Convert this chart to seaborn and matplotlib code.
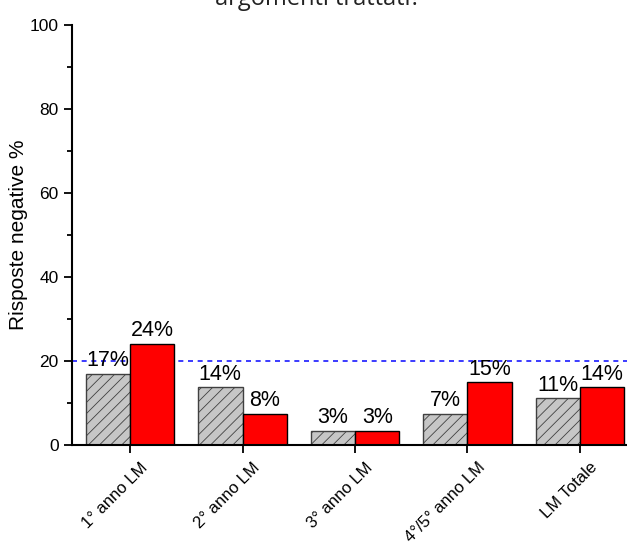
import matplotlib
matplotlib.use("Agg")
import matplotlib.pyplot as plt
from matplotlib.ticker import MultipleLocator
import matplotlib.transforms as mtransforms
import pandas as pd
import seaborn as sns

# data
categorie = ["1° anno LM", "2° anno LM", "3° anno LM", "4°/5° anno LM", "LM Totale"]
gruppi = ["grigio", "rosso"]
valori_grigio = [16.9, 13.7, 3.4, 7.5, 11.1]
valori_rosso = [24.0, 7.5, 3.4, 14.9, 13.7]
etichette_grigio = ["17%", "14%", "3%", "7%", "11%"]
etichette_rosso = ["24%", "8%", "3%", "15%", "14%"]
soglia = 20
titolo = "argomenti trattati?"
ylabel = "Risposte negative %"

df = pd.DataFrame({
    "categoria": categorie * 2,
    "gruppo": [gruppi[0]] * len(categorie) + [gruppi[1]] * len(categorie),
    "valore": valori_grigio + valori_rosso,
})

sns.set_style("ticks")
plt.rcParams["font.family"] = ["Liberation Sans", "DejaVu Sans"]
plt.rcParams["text.color"] = "black"
plt.rcParams["axes.labelcolor"] = "black"
plt.rcParams["xtick.color"] = "black"
plt.rcParams["ytick.color"] = "black"
plt.rcParams["hatch.linewidth"] = 0.6
plt.rcParams["hatch.color"] = "#505050"

fig = plt.figure(figsize=(6.27, 5.43), dpi=100)
ax = fig.add_axes([72 / 627, 98 / 543, 1 - 72 / 627, 420 / 543])

sns.barplot(data=df, x="categoria", y="valore", hue="gruppo", hue_order=gruppi,
            order=categorie, palette={"grigio": "#c6c6c6", "rosso": "#ff0000"},
            saturation=1, width=0.79, gap=0, linewidth=1.0, edgecolor="black",
            legend=False, ax=ax)

# gray bars get the diagonal hatch
for p in ax.containers[0]:
    p.set_hatch("///")
    p.set_edgecolor("#404040")

ax.bar_label(ax.containers[0], labels=etichette_grigio, padding=2, fontsize=15.5)
ax.bar_label(ax.containers[1], labels=etichette_rosso, padding=2, fontsize=15.5)

ax.axhline(soglia, color="#1a1aff", linewidth=1.2, dashes=(3, 2.8), zorder=0.5)

ax.set_ylim(0, 100)
ax.set_xlim(-0.516, 4.418)
ax.yaxis.set_major_locator(MultipleLocator(20))
ax.yaxis.set_minor_locator(MultipleLocator(10))
ax.tick_params(axis="y", which="major", length=6, width=1.3, labelsize=12.5)
ax.tick_params(axis="y", which="minor", length=3.5, width=1.3)
ax.tick_params(axis="x", which="major", length=6, width=1.3, labelsize=12)

ax.set_xlabel("")
ax.set_ylabel(ylabel, fontsize=15)
ax.yaxis.set_label_coords(-0.079, 0.5)

offset = mtransforms.ScaledTranslation(7 / 72, -1 / 72, fig.dpi_scale_trans)
for lab in ax.get_xticklabels():
    lab.set_rotation(45)
    lab.set_ha("right")
    lab.set_va("top")
    lab.set_rotation_mode("anchor")
    lab.set_transform(lab.get_transform() + offset)

sns.despine(ax=ax)
for s in ["left", "bottom"]:
    ax.spines[s].set_linewidth(1.5)
    ax.spines[s].set_color("black")

fig.text(0.507, 0.9917, titolo, ha="center", va="baseline", fontsize=17,
         family=["Open Sans", "DejaVu Sans"], color="#222222")

plt.savefig("out.png", dpi=100)
